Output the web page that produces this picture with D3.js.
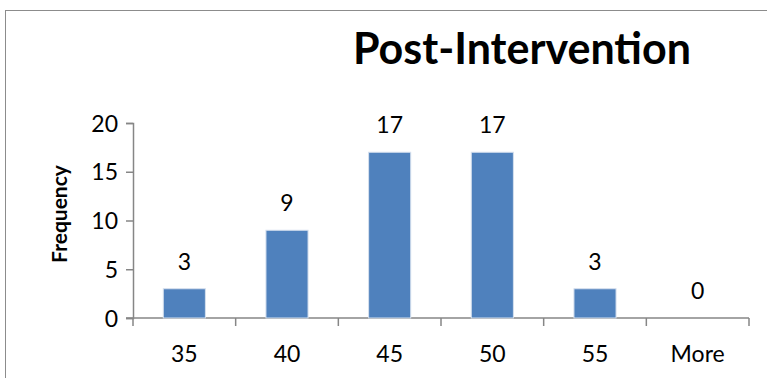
<!DOCTYPE html>
<html>
<head>
<meta charset="utf-8">
<script src="https://cdn.jsdelivr.net/npm/d3@7"></script>
<style>
  html, body { margin: 0; padding: 0; background: #fff; }
  svg { display: block; font-family: Lato, "Open Sans", sans-serif; }
</style>
</head>
<body>
<svg id="chart" width="767" height="378"></svg>
<script>
// Histogram bins and their counts
const categories = ["35", "40", "45", "50", "55", "More"];
const frequencies = [3, 9, 17, 17, 3, 0];
const yTicks = [0, 5, 10, 15, 20];
const titleText = "Post-Intervention";
const yAxisTitle = "Frequency";

const svg = d3.select("#chart");
const W = 767, H = 378;
const plot = { left: 133, right: 749, top: 123, bottom: 318 };
const labelSize = 23;

// Outer chart frame
svg.append("rect")
  .attr("x", 5.5).attr("y", 10.5)
  .attr("width", W + 20).attr("height", H + 20)
  .attr("fill", "#fff").attr("stroke", "#8c8c8c").attr("stroke-width", 1);

const x = d3.scaleBand()
  .domain(categories)
  .range([plot.left, plot.right])
  .paddingInner(0.59).paddingOuter(0.295);

const y = d3.scaleLinear().domain([0, 20]).range([plot.bottom, plot.top]);

const axisColor = "#868686";

// Y axis
const yAxis = svg.append("g")
  .attr("transform", `translate(${plot.left},0)`)
  .call(d3.axisLeft(y).tickValues(yTicks).tickSize(7).tickPadding(8));
yAxis.select(".domain").attr("stroke", axisColor).attr("stroke-width", 1.5);
yAxis.selectAll(".tick line").attr("stroke", axisColor).attr("stroke-width", 1.5);
yAxis.selectAll(".tick text")
  .attr("fill", "#000").attr("font-size", labelSize).attr("dy", "0.35em")
  .attr("font-family", "Lato, sans-serif");

// X axis: ticks at the band boundaries
const xAxisG = svg.append("g").attr("transform", `translate(0,${plot.bottom})`);
xAxisG.append("line")
  .attr("x1", plot.left - 7).attr("x2", plot.right)
  .attr("stroke", axisColor).attr("stroke-width", 1.5);
const step = x.step();
const boundaries = d3.range(categories.length + 1).map(i => plot.left + i * step);
xAxisG.selectAll("line.tk").data(boundaries).join("line")
  .attr("class", "tk")
  .attr("x1", d => d).attr("x2", d => d)
  .attr("y1", 0).attr("y2", 8)
  .attr("stroke", axisColor).attr("stroke-width", 1.5);
xAxisG.selectAll("text").data(categories).join("text")
  .attr("x", d => x(d) + x.bandwidth() / 2)
  .attr("y", 44)
  .attr("text-anchor", "middle")
  .attr("font-size", labelSize)
  .attr("fill", "#000")
  .text(d => d);

// Bars
const data = categories.map((c, i) => ({ c, v: frequencies[i] }));
svg.append("g").selectAll("rect").data(data.filter(d => d.v > 0)).join("rect")
  .attr("x", d => x(d.c))
  .attr("y", d => y(d.v))
  .attr("width", x.bandwidth())
  .attr("height", d => y(0) - y(d.v))
  .attr("fill", "#4f81bd")
  .attr("stroke", "#d6e0ee").attr("stroke-width", 1);

// Value labels
svg.append("g").selectAll("text").data(data).join("text")
  .attr("x", d => x(d.c) + x.bandwidth() / 2)
  .attr("y", d => y(d.v) - 19)
  .attr("text-anchor", "middle")
  .attr("font-size", labelSize)
  .attr("fill", "#000")
  .text(d => d.v);

// Title
svg.append("text")
  .attr("x", 522).attr("y", 64)
  .attr("text-anchor", "middle")
  .attr("font-size", 43).attr("font-weight", "bold")
  .attr("fill", "#000")
  .text(titleText);

// Y axis title
svg.append("text")
  .attr("transform", `translate(67,214) rotate(-90)`)
  .attr("text-anchor", "middle")
  .attr("font-size", 21).attr("font-weight", "bold")
  .attr("fill", "#000")
  .text(yAxisTitle);
</script>
</body>
</html>
